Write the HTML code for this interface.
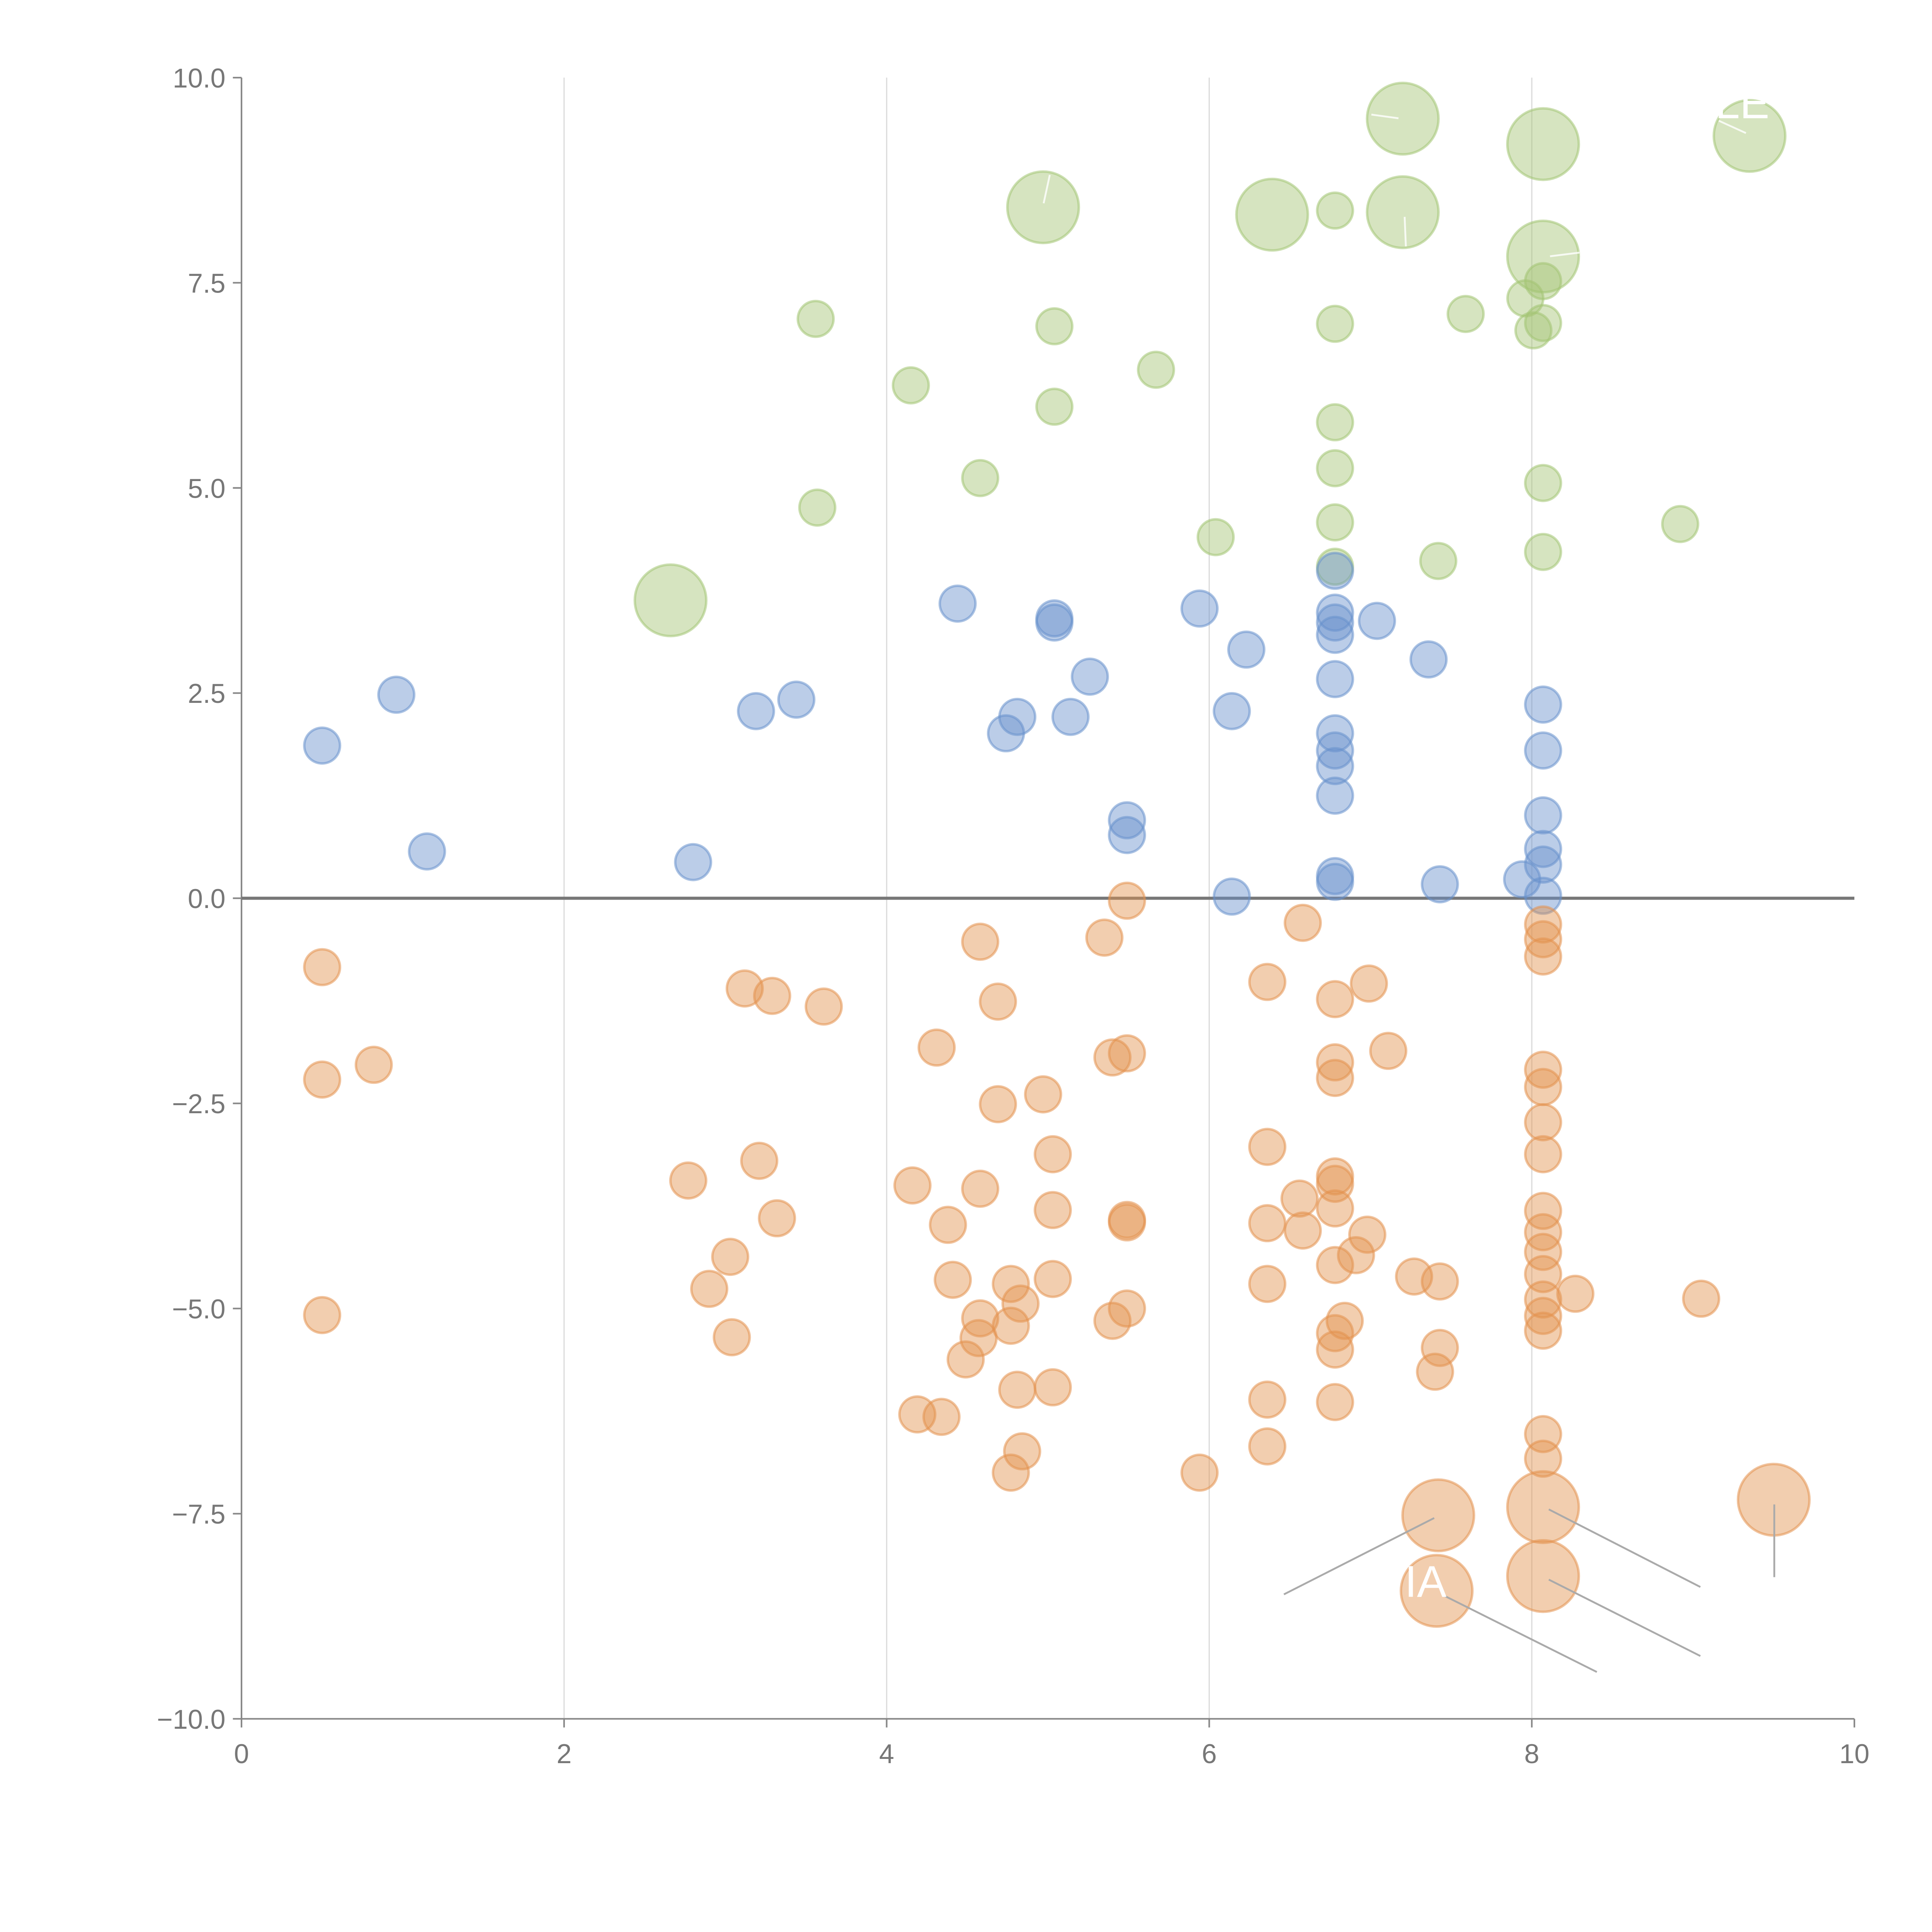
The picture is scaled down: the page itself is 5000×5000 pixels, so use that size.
<!DOCTYPE html>
<html><head><meta charset="utf-8">
<style>
html,body{margin:0;padding:0;background:#fff;}
svg{display:block;}
text{font-family:"Liberation Sans",sans-serif;}
</style></head>
<body>
<svg id="chart" width="5000" height="5000" viewBox="0 0 1568 1568" xmlns="http://www.w3.org/2000/svg">
<g id="grid"></g>
<g id="axes"></g>
<g id="marks"></g>
<g id="ann"></g>
</svg>
<script>
const xTicks = [0,2,4,6,8,10];
const yTicks = [-10,-7.5,-5,-2.5,0,2.5,5,7.5,10];
const yTickLabels = ["\u221210.0","\u22127.5","\u22125.0","\u22122.5","0.0","2.5","5.0","7.5","10.0"];

const greenX = [3.56,3.57,4.15,4.58,5.04,5.04,5.67,6.04,6.78,6.78,6.78,6.78,6.78,6.78,7.42,7.59,7.96,8.01,8.07,8.07,8.07,8.07,8.92];
const greenY = [7.06,4.76,6.25,5.12,6.97,5.99,6.44,4.40,8.38,7.00,5.80,5.24,4.58,4.04,4.11,7.12,7.31,6.92,7.52,7.01,5.06,4.22,4.56];
const greenBigX = [2.66,4.97,6.39,7.20,7.20,8.07,8.07,9.35];
const greenBigY = [3.63,8.42,8.33,9.50,8.36,9.19,7.82,9.29];

const blueX = [0.50,0.96,1.15,2.80,3.19,3.44,4.44,4.74,4.81,5.04,5.04,5.14,5.26,5.49,5.49,5.94,6.14,6.14,6.23,6.78,6.78,6.78,6.78,6.78,6.78,6.78,6.78,6.78,6.78,6.78,7.04,7.36,7.43,7.94,8.07,8.07,8.07,8.07,8.07,8.07];
const blueY = [1.86,2.48,0.57,0.44,2.28,2.42,3.59,2.01,2.21,3.41,3.36,2.21,2.70,0.95,0.77,3.53,2.28,0.02,3.03,3.99,3.48,3.36,3.21,2.67,2.01,1.80,1.61,1.25,0.27,0.20,3.38,2.91,0.17,0.23,2.36,1.80,1.01,0.60,0.41,0.03];

const orangeX = [0.50,0.50,0.82,0.50,2.77,3.03,2.90,3.04,3.12,3.21,3.29,3.32,3.61,4.16,4.19,4.31,4.34,4.38,4.41,4.49,4.57,4.58,4.58,4.58,4.69,4.69,4.77,4.77,4.77,4.81,4.83,4.84,4.97,5.03,5.03,5.03,5.03,5.35,5.40,5.40,5.49,5.49,5.49,5.49,5.49,5.94,6.36,6.36,6.36,6.36,6.36,6.36,6.56,6.58,6.58,6.78,6.78,6.78,6.78,6.78,6.78,6.78,6.78,6.78,6.78,6.84,6.91,6.98,6.99,7.11,7.27,7.40,7.43,7.43,8.07,8.07,8.07,8.07,8.07,8.07,8.07,8.07,8.07,8.07,8.07,8.07,8.07,8.07,8.07,8.07,8.27,9.05];
const orangeY = [-0.84,-2.21,-2.03,-5.08,-3.44,-4.37,-4.76,-5.35,-1.10,-3.20,-1.19,-3.90,-1.32,-3.50,-6.29,-1.82,-6.32,-3.98,-4.65,-5.62,-5.36,-0.53,-3.54,-5.12,-1.26,-2.51,-4.70,-5.21,-7.00,-5.99,-4.94,-6.74,-2.39,-3.12,-3.80,-4.64,-5.96,-0.48,-1.94,-5.15,-0.03,-1.89,-3.92,-3.95,-5.00,-7.00,-1.02,-3.03,-3.96,-4.70,-6.11,-6.68,-3.66,-4.05,-0.30,-1.23,-2.00,-2.19,-3.39,-3.48,-3.78,-4.47,-5.30,-5.50,-6.14,-5.15,-4.35,-4.10,-1.04,-1.86,-4.61,-5.77,-4.67,-5.48,-0.32,-0.50,-0.71,-2.09,-2.30,-2.73,-3.12,-3.81,-4.07,-4.31,-4.58,-4.89,-5.09,-5.27,-6.53,-6.83,-4.82,-4.88];
const orangeBigX = [7.42,8.07,8.07,7.41,9.50];
const orangeBigY = [-7.52,-7.42,-8.26,-8.44,-7.33];

const X0=196, X1=1505, Y0=1395, Y1=63;
function sx(v){return X0+(v-0)/(10-0)*(X1-X0);}
function sy(v){return Y0-(v+10)/20*(Y0-Y1);}
const NS="http://www.w3.org/2000/svg";
function mk(tag,attrs,parent){const e=document.createElementNS(NS,tag);for(const k in attrs)e.setAttribute(k,attrs[k]);parent.appendChild(e);return e;}

const grid=document.getElementById('grid');
[2,4,6,8].forEach(v=>{
  const l=mk('line',{x1:sx(v),x2:sx(v),y1:Y1,y2:Y0,stroke:'#dcdcdc','stroke-width':1},grid);
  
  
});
const axes=document.getElementById('axes');
let a=mk('line',{x1:X0,x2:X0,y1:Y1,y2:Y0,stroke:'#888','stroke-width':1.3},axes);


a=mk('line',{x1:X0,x2:X1,y1:Y0,y2:Y0,stroke:'#888','stroke-width':1.3},axes);


xTicks.forEach(v=>{
  const t=mk('line',{x1:sx(v),x2:sx(v),y1:Y0,y2:Y0+7,stroke:'#888','stroke-width':1.3},axes);
  
  
  const tx=mk('text',{x:sx(v),y:Y0+36,'text-anchor':'middle','font-size':22,fill:'#777'},axes);
  tx.textContent=String(v);
  
  
});
yTicks.forEach((v,i)=>{
  const t=mk('line',{x1:X0-7,x2:X0,y1:sy(v),y2:sy(v),stroke:'#888','stroke-width':1.3},axes);
  
  
  const tx=mk('text',{x:X0-13,y:sy(v)+8,'text-anchor':'end','font-size':22,fill:'#777'},axes);
  tx.textContent=yTickLabels[i];
  
  
});

const marks=document.getElementById('marks');
function series(xs,ys,r,color,name){
  xs.forEach((x,i)=>{
    const c=mk('circle',{cx:sx(x),cy:sy(ys[i]),r:r,fill:color,'fill-opacity':0.45,stroke:color,'stroke-opacity':0.55,'stroke-width':2},marks);
    
    
  });
}
series(greenX,greenY,14.5,'#a3c473','green-bubble');
series(greenBigX,greenBigY,29,'#a3c473','green-large-bubble');
series(blueX,blueY,14.5,'#6891cc','blue-bubble');
series(orangeX,orangeY,14.5,'#e3924e','orange-bubble');
series(orangeBigX,orangeBigY,29,'#e3924e','orange-large-bubble');

let z=mk('line',{x1:X0,x2:X1,y1:sy(0),y2:sy(0),stroke:'#777','stroke-width':2.5},axes);



const ann=document.getElementById('ann');
[[1042,1294,1164,1232],[1257,1225,1380,1288],[1257,1282,1380,1344],[1172,1295,1296,1357],[1440,1221,1440,1280]].forEach(p=>{
  const l=mk('line',{x1:p[0],y1:p[1],x2:p[2],y2:p[3],stroke:'#aaa','stroke-width':1.5},ann);
  
  
});
[[1113,93,1135,96],[847,165,852,142],[1140,176,1141,200],[1258,208,1282,205],[1395,98,1417,108]].forEach(p=>{
  const l=mk('line',{x1:p[0],y1:p[1],x2:p[2],y2:p[3],stroke:'#fff','stroke-width':1.5,'stroke-opacity':0.8},ann);
  
  
});
let t=mk('text',{x:1140,y:1296,'font-size':36,fill:'#fff'},ann);
t.textContent='IA';


t=mk('text',{x:1392,y:96,'font-size':36,fill:'#fff'},ann);
t.textContent='LE';


</script>
</body></html>
